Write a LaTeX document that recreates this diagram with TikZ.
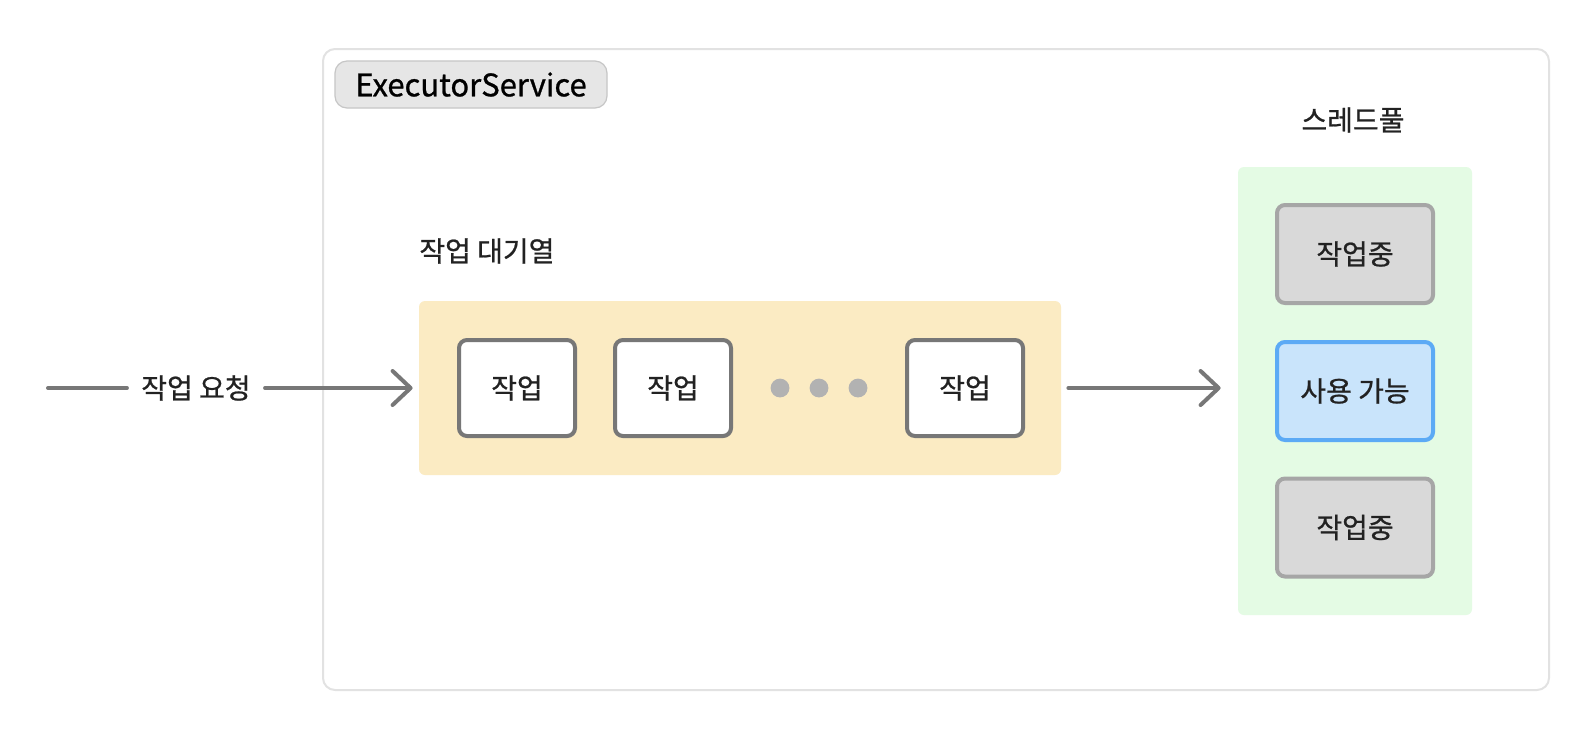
\documentclass[tikz,border=0pt]{standalone}
\usepackage{fontspec}
\setmainfont{Noto Sans CJK KR}[FakeBold=0.8]
\usepackage{tikz}
\usetikzlibrary{calc,positioning,arrows.meta}
\definecolor{ExLine}{HTML}{E2E2E2}
\definecolor{ExTag}{HTML}{E6E6E6}
\definecolor{ExTagLine}{HTML}{C6C6C6}
\definecolor{QueueFill}{HTML}{FBEBC3}
\definecolor{PoolFill}{HTML}{E4FBE4}
\definecolor{TaskLine}{HTML}{777777}
\definecolor{BusyFill}{HTML}{D9D9D9}
\definecolor{BusyLine}{HTML}{A6A6A6}
\definecolor{FreeFill}{HTML}{C9E4FB}
\definecolor{FreeLine}{HTML}{5CAAF5}
\definecolor{DotGrey}{HTML}{B2B2B2}
\definecolor{TextDark}{HTML}{222222}

\begin{document}
\begin{tikzpicture}[x=0.5pt,y=-0.5pt,font=\fontsize{14pt}{16pt}\selectfont,text=TextDark,
      task/.style={draw=TaskLine,fill=white,line width=2pt,rounded corners=4pt,minimum width=58pt,minimum height=48pt,inner sep=0pt},
      busy/.style={draw=BusyLine,fill=BusyFill,line width=2pt,rounded corners=4pt,minimum width=78pt,minimum height=49pt,inner sep=0pt},
      free/.style={busy,draw=FreeLine,fill=FreeFill},
      ar/.style={-{Straight Barb[length=9pt,width=17pt,line cap=round,round]},line width=2pt,line cap=round,color=TaskLine}]
      \useasboundingbox (0,0) rectangle (1588,730);
      % executor frame
      \draw[ExLine,line width=1pt,rounded corners=6pt,fill=white] (323,49) rectangle (1549,690);
      \node[draw=ExTagLine,fill=ExTag,line width=0.6pt,rounded corners=6pt,minimum width=136pt,minimum height=23.5pt,inner sep=0pt,font=\fontsize{15.5pt}{17pt}\selectfont,text=black] (tag) at (471,84.5) {ExecutorService};
      % queue
      \node[fill=QueueFill,rounded corners=3pt,minimum width=321pt,minimum height=87pt,inner sep=0pt] (queue) at (740,388) {};
      \node[anchor=west,inner sep=0pt] (qlabel) at (419,251) {작업 대기열};
      \node[task] (t1) at (517,388) {작업};
      \node[task] (t2) at (673,388) {작업};
      \node[task] (t3) at (965,388) {작업};
      \foreach \x/\n in {780/d1,819/d2,858/d3}
        \fill[DotGrey] (\x,388) circle (4.7pt) coordinate (\n);
      % pool
      \node[fill=PoolFill,rounded corners=3pt,minimum width=117pt,minimum height=224pt,inner sep=0pt] (pool) at (1355,391) {};
      \node (plabel) at (1353,120) {스레드풀};
      \node[busy] (w1) at (1355,254) {작업중};
      \node[free] (w2) at (1355,391) {사용 가능};
      \node[busy] (w3) at (1355,527.5) {작업중};
      % arrows
      \coordinate (src) at (48,388);
      \node[inner sep=7pt] (req) at (196,388) {작업 요청};
      \draw[line width=2pt,line cap=round,TaskLine] (src) -- (req);
      \draw[ar,shorten >=3pt] (req) -- (queue.west);
      \draw[ar,shorten <=3.5pt,shorten >=8.5pt] (queue.east) -- (pool.west |- queue.east);
    \end{tikzpicture}
\end{document}
